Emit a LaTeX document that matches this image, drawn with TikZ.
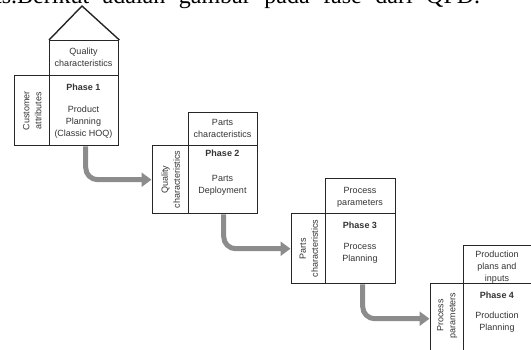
\documentclass[tikz,border=0pt]{standalone}
\usepackage{fontspec}
\setmainfont{Liberation Sans}
\newfontfamily\serifhead{Liberation Serif}
\usetikzlibrary{arrows.meta}
\begin{document}
\begin{tikzpicture}[x=1pt,y=-1pt,
  box/.style={draw=black!85, line width=1.4pt, rectangle, inner sep=0pt, anchor=north west},
  lbl/.style={font=\fontsize{9}{12}\selectfont, align=center, inner sep=0pt, text=black!80},
  phase/.style={lbl, font=\fontsize{9}{12}\selectfont\bfseries},
  side/.style={lbl, rotate=90, anchor=center},
  flow/.style={draw=black!45, line width=5pt, rounded corners=12pt, -{Triangle[length=10pt,width=14pt]}, shorten >=0.5pt}
]
\useasboundingbox (0,0) rectangle (531,349);
\clip (0,0) rectangle (531,349);
% caption line cut at the top
\node[font=\serifhead\fontsize{24}{24}\selectfont, anchor=base west, inner sep=0pt] (cap) at (-5,3) {\makebox[485pt][s]{ts.Berikut adalah gambar pada fase dari QFD.}};

% Phase 1
\node[box, minimum width=69pt, minimum height=35pt] (t1) at (49,40) {};
\node[box, minimum width=69pt, minimum height=70pt] (m1) at (49,75) {};
\node[box, minimum width=35pt, minimum height=70pt] (l1) at (14,75) {};
\draw[draw=black!85, line width=1.4pt, line join=miter] (t1.north west) -- (82,6) coordinate (apex) -- (t1.north east);
\node[lbl] (t1a) at (83.5,57.5) {Quality\\characteristics};
\node[phase] (p1) at (83.5,87) {Phase 1};
\node[lbl] (d1) at (83.5,122) {Product\\Planning\\(Classic HOQ)};
\node[side] (s1) at (l1.center) {Customer\\attributes};

% Phase 2
\node[box, minimum width=69pt, minimum height=33pt] (t2) at (188,112) {};
\node[box, minimum width=69pt, minimum height=68pt] (m2) at (188,145) {};
\node[box, minimum width=36pt, minimum height=68pt] (l2) at (152,145) {};
\node[lbl] (t2a) at (222.5,128) {Parts\\characteristics};
\node[phase] (p2) at (222.5,153) {Phase 2};
\node[lbl] (d2) at (222.5,185) {Parts\\Deployment};
\node[side] (s2) at (l2.center) {Quality\\characteristics};

% Phase 3
\node[box, minimum width=70pt, minimum height=35pt] (t3) at (325,178) {};
\node[box, minimum width=70pt, minimum height=70pt] (m3) at (325,213) {};
\node[box, minimum width=34pt, minimum height=70pt] (l3) at (291,213) {};
\node[lbl] (t3a) at (360,197) {Process\\parameters};
\node[phase] (p3) at (360,225) {Phase 3};
\node[lbl] (d3) at (360,253.5) {Process\\Planning};
\node[side] (s3) at (l3.center) {Parts\\characteristics};

% Phase 4
\node[box, minimum width=69pt, minimum height=38pt] (t4) at (463,245) {};
\node[box, minimum width=69pt, minimum height=70pt] (m4) at (463,283) {};
\node[box, minimum width=33pt, minimum height=70pt] (l4) at (430,283) {};
\node[lbl] (t4a) at (497,267.5) {Production\\plans and\\inputs};
\node[phase] (p4) at (497,295) {Phase 4};
\node[lbl] (d4) at (497,322.5) {Production\\Planning};
\node[side] (s4) at ([yshift=3pt]l4.center) {Process\\parameters};

% flow arrows
\draw[flow] ([xshift=1.5pt]m1.south) |- (l2.west);
\draw[flow] ([xshift=0.5pt]m2.south) |- (l3.west);
\draw[flow] ([xshift=2pt]m3.south) |- (l4.west);
\end{tikzpicture}
\end{document}
